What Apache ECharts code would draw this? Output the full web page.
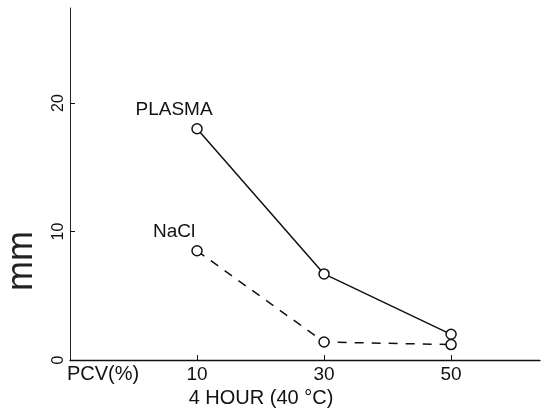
<!DOCTYPE html>
<html>
<head>
<meta charset="utf-8">
<script src="https://cdn.jsdelivr.net/npm/echarts@6/dist/echarts.min.js"></script>
<style>
  html, body { margin: 0; padding: 0; background: #fff; }
  #chart { width: 546px; height: 414px; }
</style>
</head>
<body>
<div id="chart"></div>
<script>
// PCV (%) after 4 hours at 40 °C
var pcv = [10, 30, 50];
var plasmaMm = [18.0, 6.7, 2.0];
var naclMm = [8.5, 1.4, 1.2];
var xTicks = [10, 30, 50];
var yTicks = [0, 10, 20];

var FONT = '"Liberation Sans", Arial, Helvetica, sans-serif';

function pairs(xs, ys) {
  return xs.map(function (x, i) { return [x, ys[i]]; });
}

function seriesData(xs, ys, name) {
  var d = pairs(xs, ys);
  d[0] = {
    value: d[0],
    label: {
      show: true,
      formatter: name,
      position: 'inside',
      offset: [-23, -19],
      color: '#111',
      fontFamily: FONT,
      fontSize: 19
    }
  };
  return d;
}

var chart = echarts.init(document.getElementById('chart'), null, { renderer: 'canvas' });

chart.setOption({
  backgroundColor: '#fff',
  animation: false,
  grid: { left: 70, right: 6, top: 8, bottom: 54, containLabel: false },
  xAxis: {
    type: 'value',
    min: -10,
    max: 64,
    splitLine: { show: false },
    axisLine: { onZero: false, lineStyle: { color: '#111', width: 1.3 } },
    axisTick: { inside: true, length: 5, customValues: xTicks, lineStyle: { color: '#111' } },
    axisLabel: {
      customValues: xTicks,
      margin: 5,
      color: '#111',
      fontFamily: FONT,
      fontSize: 19
    }
  },
  yAxis: {
    type: 'value',
    min: 0,
    max: 27.4,
    splitLine: { show: false },
    axisLine: { onZero: false, lineStyle: { color: '#222', width: 1 } },
    axisTick: { inside: true, length: 5, customValues: yTicks, lineStyle: { color: '#111' } },
    axisLabel: {
      customValues: yTicks,
      rotate: 90,
      margin: 3,
      color: '#111',
      fontFamily: FONT,
      fontSize: 16
    }
  },
  graphic: [
    {
      type: 'text',
      x: 22, y: 261,
      rotation: Math.PI / 2,
      style: {
        text: 'mm',
        fill: '#222',
        font: '300 36px ' + FONT,
        align: 'center',
        verticalAlign: 'middle'
      }
    },
    {
      type: 'text',
      x: 67, y: 364,
      style: { text: 'PCV(%)', fill: '#111', font: '20px ' + FONT }
    },
    {
      type: 'text',
      x: 261, y: 398,
      style: {
        text: '4 HOUR (40 \u00B0C)',
        fill: '#111',
        font: '20px ' + FONT,
        align: 'center',
        verticalAlign: 'middle'
      }
    }
  ],
  series: [
    {
      name: 'PLASMA',
      type: 'line',
      data: seriesData(pcv, plasmaMm, 'PLASMA'),
      symbol: 'circle',
      symbolSize: 10,
      lineStyle: { color: '#111', width: 1.5, type: 'solid' },
      itemStyle: { color: '#fff', borderColor: '#111', borderWidth: 1.5 },
      z: 3
    },
    {
      name: 'NaCl',
      type: 'line',
      data: seriesData(pcv, naclMm, 'NaCl'),
      symbol: 'circle',
      symbolSize: 10,
      lineStyle: { color: '#111', width: 1.5, type: [9, 8] },
      itemStyle: { color: '#fff', borderColor: '#111', borderWidth: 1.5 },
      z: 3
    }
  ]
});
</script>
</body>
</html>
